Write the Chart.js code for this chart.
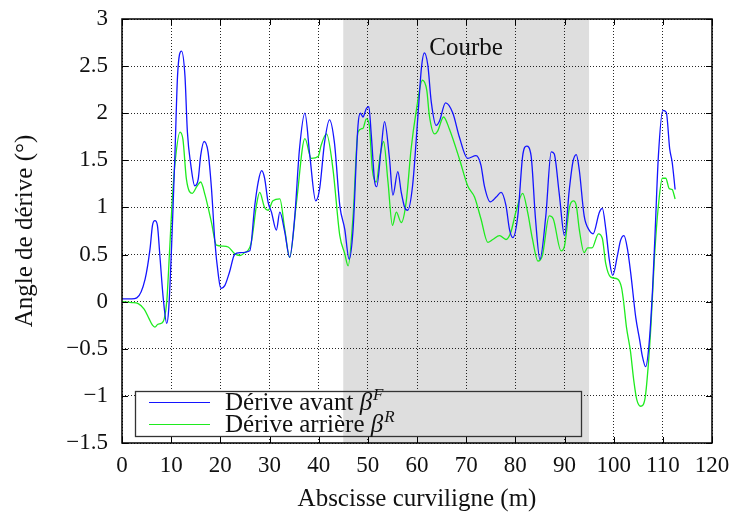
<!DOCTYPE html>
<html>
<head>
<meta charset="utf-8">
<script src="https://cdn.jsdelivr.net/npm/chart.js@4.4.1/dist/chart.umd.min.js"></script>
<style>
  body { margin: 0; background: #fff; }
  #wrap { width: 735px; height: 515px; }
</style>
</head>
<body>
<div id="wrap"><canvas id="myChart" width="735" height="515"></canvas></div>
<script>
// abscisse (m) et dérive (°) - essieu avant
const avantX = [0, 2, 3, 4.7, 5.7, 6.2, 6.7, 7.2, 7.7, 8.4, 9.1, 9.5, 10.2, 10.8, 11.3, 12.1, 12.8, 13.3, 14.0, 14.8,
    15.5, 16.0, 16.7, 17.5, 18.2, 18.9, 19.6, 20.1, 20.9, 21.9, 22.9, 24.0, 26.0, 27.0, 27.7, 28.4, 29.0, 29.7, 30.4, 31.4,
    32.1, 33.1, 34.1, 35.1, 36.1, 37.2, 38.2, 39.4, 40.2, 41.2, 42.2, 43.2, 44.3, 45.3, 46.2, 47.0, 48.0, 48.5, 49.0, 49.7,
    50.2, 50.7, 51.4, 51.8, 52.7, 53.4, 54.4, 55.1, 56.1, 56.8, 57.5, 58.1, 59.1, 60.2, 60.9, 61.5, 62.2, 62.9, 63.9, 64.6,
    65.8, 67.3, 68.6, 70.3, 72.0, 73.0, 73.7, 74.9, 76.1, 77.1, 78.1, 78.8, 79.5, 80.5, 81.5, 82.3, 83.2, 84.1, 85.0, 86.2,
    87.3, 87.9, 88.9, 90.0, 91.0, 91.7, 92.4, 93.0, 94.0, 95.0, 95.8, 97.1, 97.7, 98.4, 99.1, 99.8, 100.8, 101.4, 102.1, 102.8,
    103.5, 104.5, 105.3, 105.8, 106.5, 107.2, 107.9, 108.4, 109.1, 110.0, 110.7, 111.4, 111.9, 112.5]
const avantY = [0.03, 0.03, 0.04, 0.24, 0.56, 0.81, 0.86, 0.81, 0.49, 0.03, -0.23, -0.08, 0.74, 1.62, 2.40, 2.66, 2.40, 1.80, 1.45, 1.23,
    1.30, 1.55, 1.70, 1.59, 1.20, 0.63, 0.28, 0.14, 0.17, 0.32, 0.50, 0.52, 0.54, 1.02, 1.27, 1.39, 1.31, 1.06, 0.95, 0.76,
    0.95, 0.74, 0.47, 0.88, 1.62, 2.00, 1.55, 1.07, 1.20, 1.69, 1.93, 1.69, 1.02, 0.77, 0.45, 0.77, 1.87, 2.00, 1.96, 2.05,
    2.07, 1.77, 1.27, 1.22, 1.62, 1.91, 1.52, 1.13, 1.38, 1.16, 1.00, 0.97, 1.23, 1.98, 2.48, 2.64, 2.51, 2.12, 1.87, 1.92,
    2.11, 2.00, 1.75, 1.52, 1.55, 1.45, 1.23, 1.06, 1.11, 1.16, 1.02, 0.77, 0.68, 0.91, 1.55, 1.65, 1.55, 0.88, 0.45, 0.91,
    1.59, 1.57, 1.16, 0.70, 1.20, 1.48, 1.56, 1.40, 0.91, 0.76, 0.72, 0.95, 0.99, 0.77, 0.45, 0.28, 0.50, 0.65, 0.70, 0.56,
    0.29, -0.17, -0.41, -0.57, -0.69, -0.45, 0.12, 0.70, 1.55, 2.03, 2.01, 1.62, 1.48, 1.19]

// essieu arrière
const arriereX = [0, 2, 3.3, 4.5, 5.5, 6.2, 6.7, 7.3, 8.0, 8.6, 9.1, 9.7, 10.2, 10.8, 11.8, 12.4, 13.1, 14.3, 15.2, 16.0,
    16.9, 18.2, 19.2, 20.5, 21.6, 22.9, 24.0, 24.7, 26.3, 27.4, 28.0, 29.0, 29.7, 30.7, 32.1, 33.1, 34.1, 35.5, 37.2, 38.5,
    39.9, 40.5, 41.6, 42.9, 44.3, 45.3, 46.0, 47.0, 48.0, 49.0, 49.7, 50.3, 50.9, 51.7, 52.5, 53.2, 54.1, 55.0, 55.8, 56.8,
    57.8, 58.8, 59.8, 61.1, 62.0, 62.5, 63.6, 64.2, 65.4, 66.6, 68.6, 70.3, 71.7, 73.0, 74.4, 75.4, 76.8, 78.1, 79.1, 80.1,
    81.5, 82.5, 83.5, 84.6, 85.5, 86.9, 87.7, 89.3, 90.0, 91.0, 91.8, 92.4, 93.0, 94.0, 94.7, 95.6, 96.9, 97.7, 98.4, 99.4,
    100.8, 101.6, 102.0, 102.6, 103.4, 104.1, 104.7, 105.5, 106.4, 107.0, 107.6, 108.3, 109.1, 109.9, 110.6, 111.3, 111.9, 112.5]
const arriereY = [0.0, -0.01, -0.02, -0.08, -0.18, -0.25, -0.27, -0.24, -0.23, -0.18, 0.0, 0.56, 1.06, 1.48, 1.80, 1.72, 1.30, 1.15, 1.22, 1.27,
    1.13, 0.84, 0.60, 0.59, 0.58, 0.51, 0.49, 0.51, 0.63, 1.04, 1.16, 1.00, 0.97, 1.07, 1.09, 0.77, 0.47, 1.06, 1.73, 1.52,
    1.54, 1.66, 1.78, 1.41, 0.70, 0.51, 0.38, 0.91, 1.80, 1.84, 1.94, 1.87, 1.41, 1.27, 1.55, 1.70, 1.27, 0.81, 0.95, 0.84,
    1.06, 1.62, 2.01, 2.35, 2.24, 1.98, 1.78, 1.81, 1.96, 1.83, 1.52, 1.23, 1.11, 0.88, 0.63, 0.66, 0.70, 0.66, 0.74, 0.95,
    1.15, 0.95, 0.66, 0.43, 0.49, 0.91, 0.88, 0.54, 0.59, 1.00, 1.07, 1.02, 0.77, 0.52, 0.57, 0.57, 0.72, 0.67, 0.40, 0.26,
    0.24, 0.15, 0.01, -0.27, -0.52, -0.84, -1.04, -1.11, -1.02, -0.70, -0.24, 0.47, 1.02, 1.31, 1.31, 1.20, 1.19, 1.09]

// zone de virage
const courbeDebut = 45, courbeFin = 95
const courbeLabel = 'Courbe'

const legendText = ['Dérive avant ', 'Dérive arrière ']
const legendSup = ['F', 'R']

const serif = '"Liberation Serif", "DejaVu Serif", serif'
const bleu = 'rgb(20,20,255)'
const vert = 'rgb(30,235,30)'
const gris = '#dedede'

function pts(xs, ys) {
    return xs.map((x, i) => ({ x: x, y: ys[i] }))
}

function fmt(v) {
    return String(v).replace('-', '\u2212')
}

// fond gris pour la courbe, avant la grille
const shadePlugin = {
    id: 'shade',
    beforeDraw(chart) {
        const { ctx, chartArea: a, scales: { x } } = chart
        ctx.save()
        ctx.fillStyle = gris
        const x0 = x.getPixelForValue(courbeDebut), x1 = x.getPixelForValue(courbeFin)
        ctx.fillRect(x0, a.top, x1 - x0, a.bottom - a.top)
        ctx.restore()
    }
}

// cadre, petites graduations internes, texte et légende
const framePlugin = {
    id: 'frame',
    afterDatasetsDraw(chart) {
        const { ctx, chartArea: a, scales: { x, y } } = chart
        ctx.save()

        // légende
        const bx = a.left + 13, by = a.bottom - 52, bw = 446, bh = 45
        ctx.fillStyle = '#fff'
        ctx.fillRect(bx, by, bw, bh)
        const s0 = Math.max(bx, x.getPixelForValue(courbeDebut))
        const s1 = Math.min(bx + bw, x.getPixelForValue(courbeFin))
        ctx.fillStyle = gris
        ctx.fillRect(s0, by, s1 - s0, bh)
        ctx.strokeStyle = '#333'
        ctx.lineWidth = 1.3
        ctx.strokeRect(bx + 0.5, by + 0.5, bw, bh)

        const colors = [bleu, vert]
        for (let i = 0; i < 2; i++) {
            const ly = by + 11.5 + i * 22
            ctx.strokeStyle = colors[i]
            ctx.lineWidth = 1.2
            ctx.beginPath()
            ctx.moveTo(bx + 14, ly)
            ctx.lineTo(bx + 75, ly)
            ctx.stroke()

            ctx.fillStyle = '#111'
            ctx.textBaseline = 'alphabetic'
            ctx.textAlign = 'left'
            ctx.font = '25px ' + serif
            let tx = bx + 90
            const base = ly + 7
            ctx.fillText(legendText[i], tx, base)
            tx += ctx.measureText(legendText[i]).width
            ctx.font = 'italic 25px ' + serif
            ctx.fillText('\u03B2', tx, base)
            tx += ctx.measureText('\u03B2').width + 1
            ctx.font = 'italic 17px ' + serif
            ctx.fillText(legendSup[i], tx, base - 10)
        }

        // texte de zone
        ctx.fillStyle = '#111'
        ctx.font = '25px ' + serif
        ctx.textAlign = 'center'
        ctx.textBaseline = 'middle'
        ctx.fillText(courbeLabel, x.getPixelForValue(70), a.top + 29)

        // graduations
        ctx.strokeStyle = '#000'
        ctx.lineWidth = 1
        ctx.beginPath()
        x.ticks.forEach(t => {
            const px = Math.round(x.getPixelForValue(t.value)) + 0.5
            ctx.moveTo(px, a.bottom); ctx.lineTo(px, a.bottom - 6)
            ctx.moveTo(px, a.top); ctx.lineTo(px, a.top + 6)
        })
        y.ticks.forEach(t => {
            const py = Math.round(y.getPixelForValue(t.value)) + 0.5
            ctx.moveTo(a.left, py); ctx.lineTo(a.left + 6, py)
            ctx.moveTo(a.right, py); ctx.lineTo(a.right - 6, py)
        })
        ctx.stroke()

        ctx.lineWidth = 1.5
        ctx.strokeRect(a.left, a.top, a.right - a.left, a.bottom - a.top)
        ctx.restore()
    }
}

const data = {
    datasets: [
        {
            label: 'Dérive avant',
            data: pts(avantX, avantY),
            borderColor: bleu,
            borderWidth: 1.3,
            pointRadius: 0,
            cubicInterpolationMode: 'monotone',
        },
        {
            label: 'Dérive arrière',
            data: pts(arriereX, arriereY),
            borderColor: vert,
            borderWidth: 1.3,
            pointRadius: 0,
            cubicInterpolationMode: 'monotone',
        },
    ]
}

const config = {
    type: 'line',
    data: data,
    options: {
        responsive: false,
        animation: false,
        devicePixelRatio: 1,
        layout: { padding: { top: 19, right: 23, left: 0, bottom: 0 } },
        plugins: { legend: { display: false }, tooltip: { enabled: false } },
        scales: {
            x: {
                type: 'linear',
                min: 0, max: 120,
                ticks: {
                    stepSize: 10,
                    color: '#111',
                    padding: 9,
                    font: { family: serif, size: 23 },
                    maxRotation: 0,
                },
                grid: { color: 'rgba(0,0,0,0.85)', drawTicks: false, lineWidth: 1 },
                border: { display: false, dash: [1, 2] },
                title: {
                    display: true,
                    text: 'Abscisse curviligne (m)',
                    color: '#111',
                    font: { family: serif, size: 25 },
                    padding: { top: 0, bottom: 1 },
                },
                afterFit(scale) {
                    scale.height = 72
                    scale.paddingLeft = 0
                    scale.paddingRight = 0
                },
            },
            y: {
                min: -1.5, max: 3,
                ticks: {
                    stepSize: 0.5,
                    color: '#111',
                    padding: 14,
                    font: { family: serif, size: 23 },
                    callback: v => fmt(v),
                },
                grid: { color: 'rgba(0,0,0,0.85)', drawTicks: false, lineWidth: 1 },
                border: { display: false, dash: [1, 2] },
                title: {
                    display: true,
                    text: 'Angle de dérive (°)',
                    color: '#111',
                    font: { family: serif, size: 25 },
                    padding: { top: 10, bottom: 0 },
                },
                afterFit(scale) {
                    scale.width = 122
                    scale.paddingTop = 0
                    scale.paddingBottom = 0
                },
            },
        },
    },
    plugins: [shadePlugin, framePlugin],
}

const myChart = new Chart(document.querySelector('#myChart'), config)
</script>
</body>
</html>
